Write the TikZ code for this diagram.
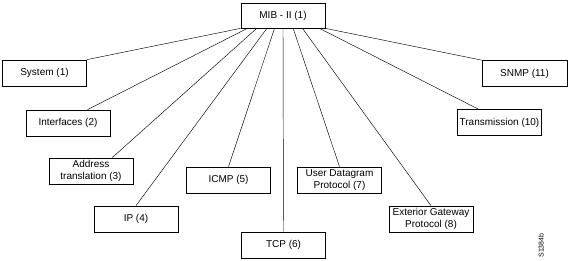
\documentclass[tikz,border=0pt]{standalone}
\usepackage{fontspec}
\setmainfont{Liberation Sans}
\usetikzlibrary{calc}

\begin{document}
\begin{tikzpicture}[x=1pt, y=-1pt,
  mibbox/.style={draw, line width=0.7pt, minimum width=84pt, minimum height=26pt,
    inner sep=1pt, align=center, font=\fontsize{10}{12.5}\selectfont},
  branch/.style={line width=0.45pt}]

%% ============================================================
%% Canvas: pixel coordinates of the reference, y pointing down
%% ============================================================
\useasboundingbox (0,0) rectangle (568,261);

%% ---- Root ----
\node[mibbox, minimum height=25pt] (mib) at (283,15.5) {MIB - II (1)};

%% ---- Groups below the root ----
\node[mibbox] (sys)   at (44.5,73)    {System (1)};
\node[mibbox] (intf)  at (68,123)     {Interfaces (2)};
\node[mibbox] (addr)  at (91,171)     {Address\\translation (3)};
\node[mibbox] (ip)    at (136,219)    {IP (4)};
\node[mibbox] (icmp)  at (228.5,180)  {ICMP (5)};
\node[mibbox] (tcp)   at (283.5,245)  {TCP (6)};
\node[mibbox] (udp)   at (339.5,180)  {User Datagram\\Protocol (7)};
\node[mibbox] (egp)   at (431,219)    {Exterior Gateway\\Protocol (8)};
\node[mibbox] (trans) at (499.5,122.5){Transmission (10)};
\node[mibbox, minimum width=85pt] (snmp) at (524.5,73.5) {SNMP (11)};

%% ---- Branches: fanned out along the bottom edge of the root ----
\def\mibfrom#1{($(mib.south west)!#1!(mib.south east)$)}
\draw[branch] \mibfrom{0}    -- (sys.north east);
\draw[branch] \mibfrom{0.08} -- ($(intf.north west)!0.73!(intf.north east)$);
\draw[branch] \mibfrom{0.19} -- ($(addr.north west)!0.75!(addr.north east)$);
\draw[branch] \mibfrom{0.31} -- (ip.north);
\draw[branch] \mibfrom{0.40} -- (icmp.north);
\draw[branch] (mib.south)    -- (tcp.north);
\draw[branch] \mibfrom{0.62} -- (udp.north);
\draw[branch] \mibfrom{0.73} -- (egp.north);
\draw[branch] \mibfrom{0.93} -- ($(trans.north west)!0.25!(trans.north east)$);
\draw[branch] \mibfrom{1}    -- (snmp.north west);

%% ---- Figure tag ----
\node[rotate=90, font=\fontsize{7}{8}\selectfont, inner sep=0pt] (tag) at (541,245.5) {S1384b};

\end{tikzpicture}
\end{document}
